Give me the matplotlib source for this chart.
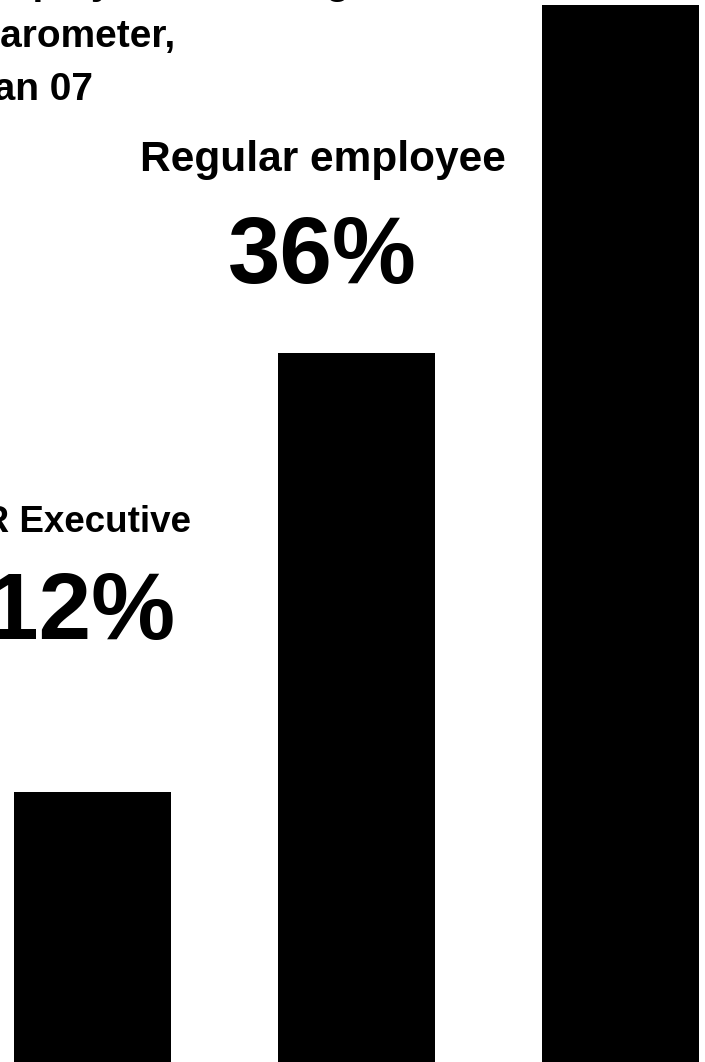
import matplotlib.pyplot as plt
import numpy as np

plt.rcParams['font.family'] = ['Liberation Sans', 'DejaVu Sans']

# data
categories = ['HR Executive', 'Regular employee', 'Manager']
values = [12, 36, 55]
labels = ['12%', '36%', '']
title = 'Employee Wellbeing\nBarometer,\nJan 07'

fig = plt.figure(figsize=(7.05, 10.62), dpi=100)
ax = fig.add_axes([0, 0, 1, 1])

floor = -2.79
x = np.arange(len(values))
ax.bar(x, np.array(values) - floor, bottom=floor, width=0.595, color='black')
ax.set_xlim(-0.35, 2.32)
ax.set_ylim(floor, 55.3)
ax.axis('off')

# label placement in pixels relative to top centre of each bar:
# (dx of percent, dy of percent, dx of category, dy of category, category size)
place = [(-12, 153, -19, 260, 26.5), (-34, 70, -34, 182, 30.5)]
for i, (dxp, dyp, dxc, dyc, cs) in enumerate(place):
    ax.annotate(labels[i], xy=(x[i], values[i]), xytext=(dxp, dyp),
                textcoords='offset pixels', ha='center', va='baseline',
                fontsize=68, fontweight='bold', annotation_clip=False)
    ax.annotate(categories[i], xy=(x[i], values[i]), xytext=(dxc, dyc),
                textcoords='offset pixels', ha='center', va='baseline',
                fontsize=cs, fontweight='bold', annotation_clip=False)

fig.text(-28 / 705, 1 - 100 / 1062, title, ha='left', va='baseline',
         fontsize=28, fontweight='bold', linespacing=1.6)

fig.savefig('out.png', dpi=100)
